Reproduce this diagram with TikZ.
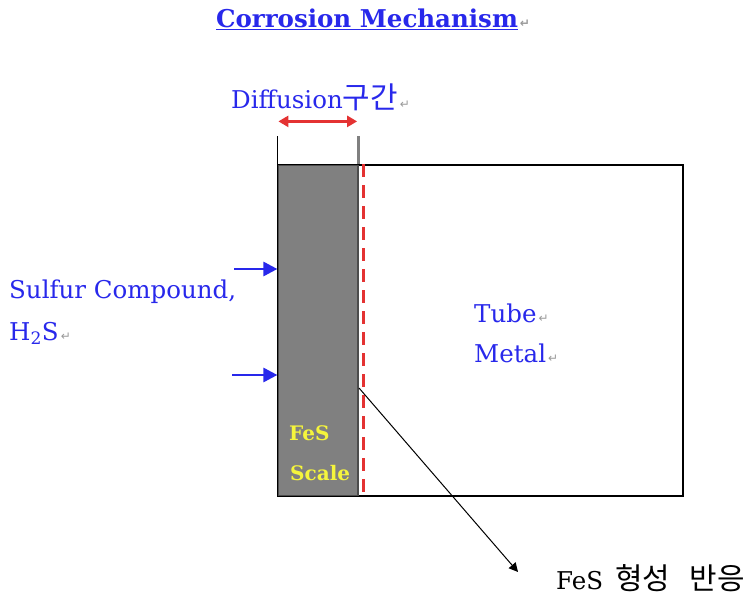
\documentclass[tikz,border=0pt]{standalone}
\usepackage{fontspec}
\setmainfont{DejaVu Serif}
\newfontfamily\kr[Scale=1.22]{Noto Sans CJK KR}
\newfontfamily\sym{DejaVu Sans}
\usetikzlibrary{arrows.meta}
\definecolor{inkblue}{RGB}{40,40,235}
\definecolor{scalered}{RGB}{228,50,50}
\definecolor{scalegray}{RGB}{128,128,128}
\definecolor{scaleyellow}{RGB}{245,245,60}
\newcommand{\pmark}{{\sym\fontsize{12}{12}\selectfont\color{gray!80}\,↵}}
\begin{document}
\begin{tikzpicture}[x=1pt,y=-1pt,
  every node/.style={font=\fontsize{24.5}{26}\selectfont,inner sep=0pt},
  bluetext/.style={text=inkblue,anchor=west},
  blockbox/.style={draw=black,line width=1.2pt,minimum width=#1,minimum height=331pt},
  feedarrow/.style={inkblue,line width=2.8pt,-{Triangle[length=14pt,width=14pt]}},
  spanarrow/.style={scalered,line width=2.8pt,{Triangle[length=10pt,width=11pt]}-{Triangle[length=10pt,width=11pt]}}]
\useasboundingbox (0,0) rectangle (746,601);
% tube wall with FeS scale on the gas side
\node[blockbox=405pt] (metal) at (480.5,330.5) {};
\node[blockbox=80pt,fill=scalegray,draw=black!70] (scale) at (318,330.5) {};
\draw[black,line width=1.6pt] (metal.north west) rectangle (metal.south east);
\draw[scalered,line width=2.6pt,dash pattern=on 13pt off 8pt] ([xshift=5pt]scale.north east) -- ([xshift=5pt]scale.south east);
\draw[black,line width=1.8pt] (scale.north west) -- ++(0,-28) coordinate (tl);
\draw[black!50,line width=2.6pt] (scale.north east) -- ++(0,-28) coordinate (tr);
\draw[spanarrow] ([yshift=15pt,xshift=1pt]tl) -- ([yshift=15pt,xshift=-1.5pt]tr);
\node[font=\fontsize{24.5}{26}\selectfont\bfseries,text=inkblue] (title) at (373,19) {\underline{Corrosion Mechanism}\pmark};
\node[bluetext] (diff) at (231,97) {Diffusion{\kr 구간}\pmark};
\node[bluetext] (sulfur) at (9,292) {Sulfur Compound,};
\node[bluetext] (h2s) at (9,333) {H\textsubscript{2}S\pmark};
\coordinate (s1) at (234,269);
\coordinate (s2) at (232,375);
\draw[feedarrow] (s1) -- (scale.west |- s1);
\draw[feedarrow] (s2) -- (scale.west |- s2);
\node[bluetext] (tube) at (474,313) {Tube\pmark};
\node[bluetext] (tmetal) at (474,353) {Metal\pmark};
\node[anchor=west,text=scaleyellow,font=\fontsize{20}{22}\selectfont\bfseries] (fes) at (289,433) {FeS};
\node[anchor=west,text=scaleyellow,font=\fontsize{20}{22}\selectfont\bfseries] (scl) at (290,473) {Scale};
\node[anchor=west] (rxn) at (556,578) {FeS\ \,{\kr 형성}\ \ \,{\kr 반응}};
\coordinate (front) at (359,388);
\coordinate (tip) at (518,572);
\draw[black,line width=1pt,-{Triangle[length=9pt,width=9pt]}] (front) -- (tip);
\end{tikzpicture}
\end{document}
